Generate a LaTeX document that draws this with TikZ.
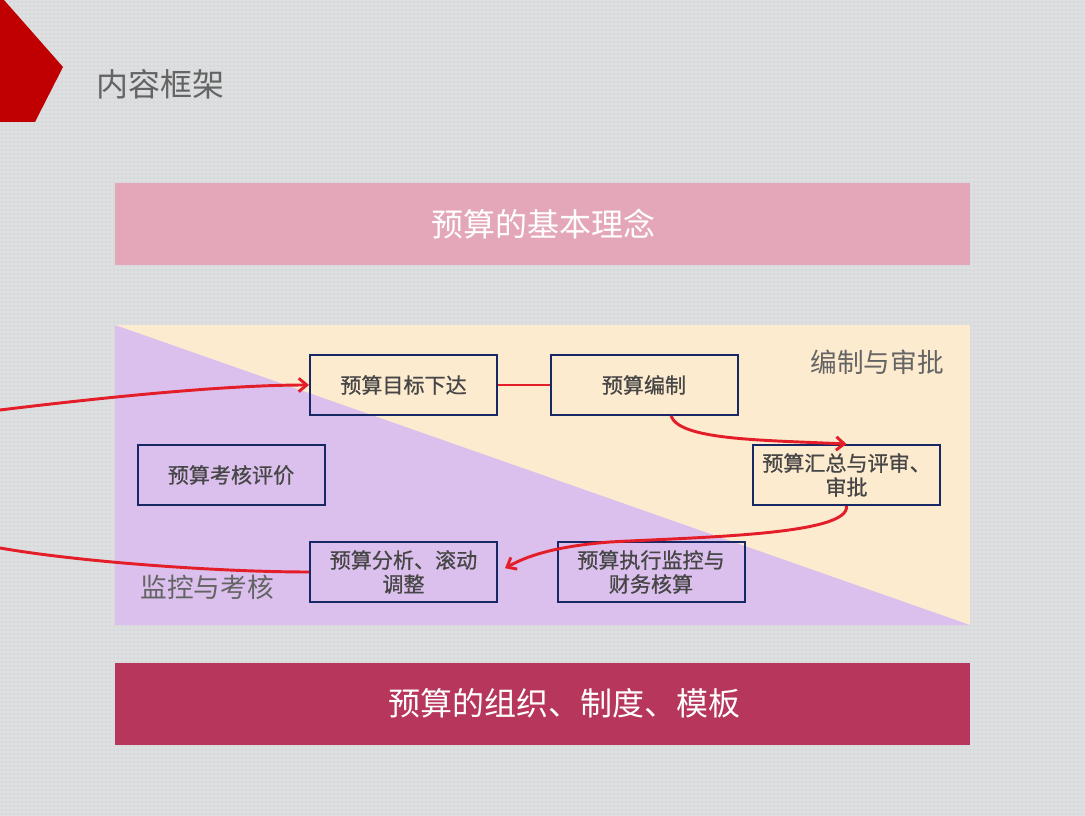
\documentclass[tikz,border=0pt]{standalone}
\usepackage{fontspec}
\newfontfamily\cjk{Noto Sans CJK SC}
\newfontfamily\cjkb[FakeBold=0.8]{Noto Sans CJK SC}
\usetikzlibrary{arrows.meta,patterns}
\definecolor{bggray}{RGB}{218,219,221}
\definecolor{redmark}{RGB}{192,0,0}
\definecolor{pinkbar}{RGB}{228,167,185}
\definecolor{wine}{RGB}{182,54,92}
\definecolor{beige}{RGB}{253,235,208}
\definecolor{lilac}{RGB}{219,191,236}
\definecolor{navy}{RGB}{24,40,100}
\definecolor{arrowred}{RGB}{228,30,40}
\definecolor{txtdark}{RGB}{70,70,70}
\definecolor{txtgray}{RGB}{100,100,100}
\begin{document}
\begin{tikzpicture}[x=0.75pt,y=-0.75pt,
  stepbox/.style={draw=navy,line width=1.5pt,minimum width=140.25pt,minimum height=45pt,
    inner sep=0pt,align=center,text=txtdark,font=\cjkb\fontsize{15.8}{18}\selectfont},
  flow/.style={draw=arrowred,line width=2.2pt},
  tip/.style={-{Straight Barb[length=6pt,width=10pt]}},
  bartext/.style={text=white,inner sep=0pt,font=\cjk\fontsize{24}{28}\selectfont},
  zonelabel/.style={text=txtgray,inner sep=0pt,font=\cjk\fontsize{20}{24}\selectfont}]
\useasboundingbox (0,0) rectangle (1085,816);
\clip (0,0) rectangle (1085,816);
% background
\fill[bggray] (0,0) rectangle (1085,816);
\fill[pattern=dots,pattern color=white!85!bggray] (0,0) rectangle (1085,816);
% red corner mark
\fill[redmark] (0,0) -- (4,0) -- (63,67) -- (35,122) -- (0,122) -- cycle;
\node[anchor=west,inner sep=0pt,text=txtgray,font=\cjk\fontsize{24}{28}\selectfont] (title) at (96,84) {内容框架};
% top bar
\fill[pinkbar] (115,183) rectangle (970,265);
\node[bartext] (idea) at (543,224) {预算的基本理念};
% main panel
\fill[beige] (115,325) rectangle (970,625);
\fill[lilac] (115,325) -- (970,625) -- (115,625) -- cycle;
\node[zonelabel] (lab1) at (877,362) {编制与审批};
\node[zonelabel] (lab2) at (207,587) {监控与考核};
% bottom bar
\fill[wine] (115,663) rectangle (970,745);
\node[bartext] (org) at (564,703) {预算的组织、制度、模板};
% boxes
\node[stepbox] (b1) at (403.5,385) {预算目标下达};
\node[stepbox] (b2) at (644,385) {预算编制};
\node[stepbox] (b3) at (846.5,475) {预算汇总与评审、\\审批};
\node[stepbox] (b4) at (651,572) {预算执行监控与\\财务核算};
\node[stepbox] (b5) at (403.5,572) {预算分析、滚动\\调整};
\node[stepbox] (b6) at (231,475) {预算考核评价};
% connectors
\coordinate (l1) at (0,410);
\coordinate (l2) at (0,548);
\draw[flow,tip] (l1) .. controls (140,393) and (240,385) .. (b1.west);
\draw[flow] (b1.east) -- (b2.west);
\draw[flow,tip] ([xshift=20.25pt]b2.south) .. controls (680,440) and (760,440) .. (b3.north);
\draw[flow,tip,shorten >=6pt] (b3.south) .. controls (850,535) and (700,537) .. (610,542)
   .. controls (545,547) and (520,560) .. (b5.east);
\draw[flow] (b5.west) .. controls (220,572) and (80,562) .. (l2);
\end{tikzpicture}
\end{document}
